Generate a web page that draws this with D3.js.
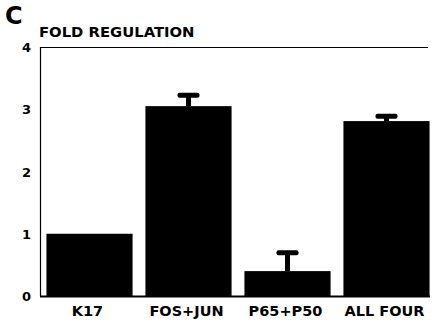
<!DOCTYPE html>
<html>
<head>
<meta charset="utf-8">
<script src="https://cdn.jsdelivr.net/npm/d3@7"></script>
<style>
  html, body { margin: 0; padding: 0; background: #fff; }
  svg { display: block; }
  text { font-family: "DejaVu Sans", "Liberation Sans", Arial, sans-serif; font-weight: bold; fill: #000; }
</style>
</head>
<body>
<script>
// Fold regulation by transcription factor combination
const categories = ["K17", "FOS+JUN", "P65+P50", "ALL FOUR"];
const foldValues = [1.0, 3.05, 0.40, 2.81];
const errorValues = [0, 0.20, 0.32, 0.10];
const tickValues = [0, 1, 2, 3, 4];

const width = 433, height = 320;
const svg = d3.select("body").append("svg")
  .attr("width", width).attr("height", height);

const x = d3.scaleBand()
  .domain(categories)
  .range([40, 436])
  .paddingInner(0.13)
  .paddingOuter(0.065);

const y = d3.scaleLinear().domain([0, 4]).range([296, 47]);

// panel letter and axis title
svg.append("text").attr("x", 5).attr("y", 24)
  .style("font-size", "24px").text("C");
svg.append("text").attr("x", 39).attr("y", 37)
  .style("font-size", "14.8px")
  .text("FOLD REGULATION");

// frame: left axis line and thin top line
svg.append("line").attr("x1", 40.5).attr("x2", 40.5)
  .attr("y1", y(4)).attr("y2", y(0))
  .attr("stroke", "#000").attr("stroke-width", 1.2);
svg.append("line").attr("x1", 40).attr("x2", 428)
  .attr("y1", y(4) + 0.5).attr("y2", y(4) + 0.5)
  .attr("stroke", "#000").attr("stroke-width", 1);

// y tick labels
svg.append("g").selectAll("text").data(tickValues).join("text")
  .attr("x", 31).attr("y", d => y(d) + 5)
  .attr("text-anchor", "end")
  .style("font-size", "13px")
  .text(d => d);

// error bars (upper only)
const err = svg.append("g");
categories.forEach((c, i) => {
  if (!errorValues[i]) return;
  const cx = x(c) + x.bandwidth() / 2;
  const top = y(foldValues[i] + errorValues[i]);
  err.append("rect").attr("x", cx - 2.5).attr("width", 5)
    .attr("y", top).attr("height", y(foldValues[i]) - top);
  err.append("rect").attr("x", cx - 11).attr("width", 22)
    .attr("y", top - 1).attr("height", 5).attr("rx", 2);
});

// bars
svg.append("g").selectAll("rect").data(categories).join("rect")
  .attr("x", d => x(d))
  .attr("width", x.bandwidth())
  .attr("y", (d, i) => y(foldValues[i]))
  .attr("height", (d, i) => y(0) - y(foldValues[i]))
  .attr("fill", "#000");

// baseline
svg.append("line").attr("x1", 40).attr("x2", 430)
  .attr("y1", y(0) + 0.5).attr("y2", y(0) + 0.5)
  .attr("stroke", "#000").attr("stroke-width", 2);

// category labels
svg.append("g").selectAll("text").data(categories).join("text")
  .attr("x", d => x(d) + x.bandwidth() / 2 - 2)
  .attr("y", 316)
  .attr("text-anchor", "middle")
  .style("font-size", "14.5px")
  .text(d => d);
</script>
</body>
</html>
